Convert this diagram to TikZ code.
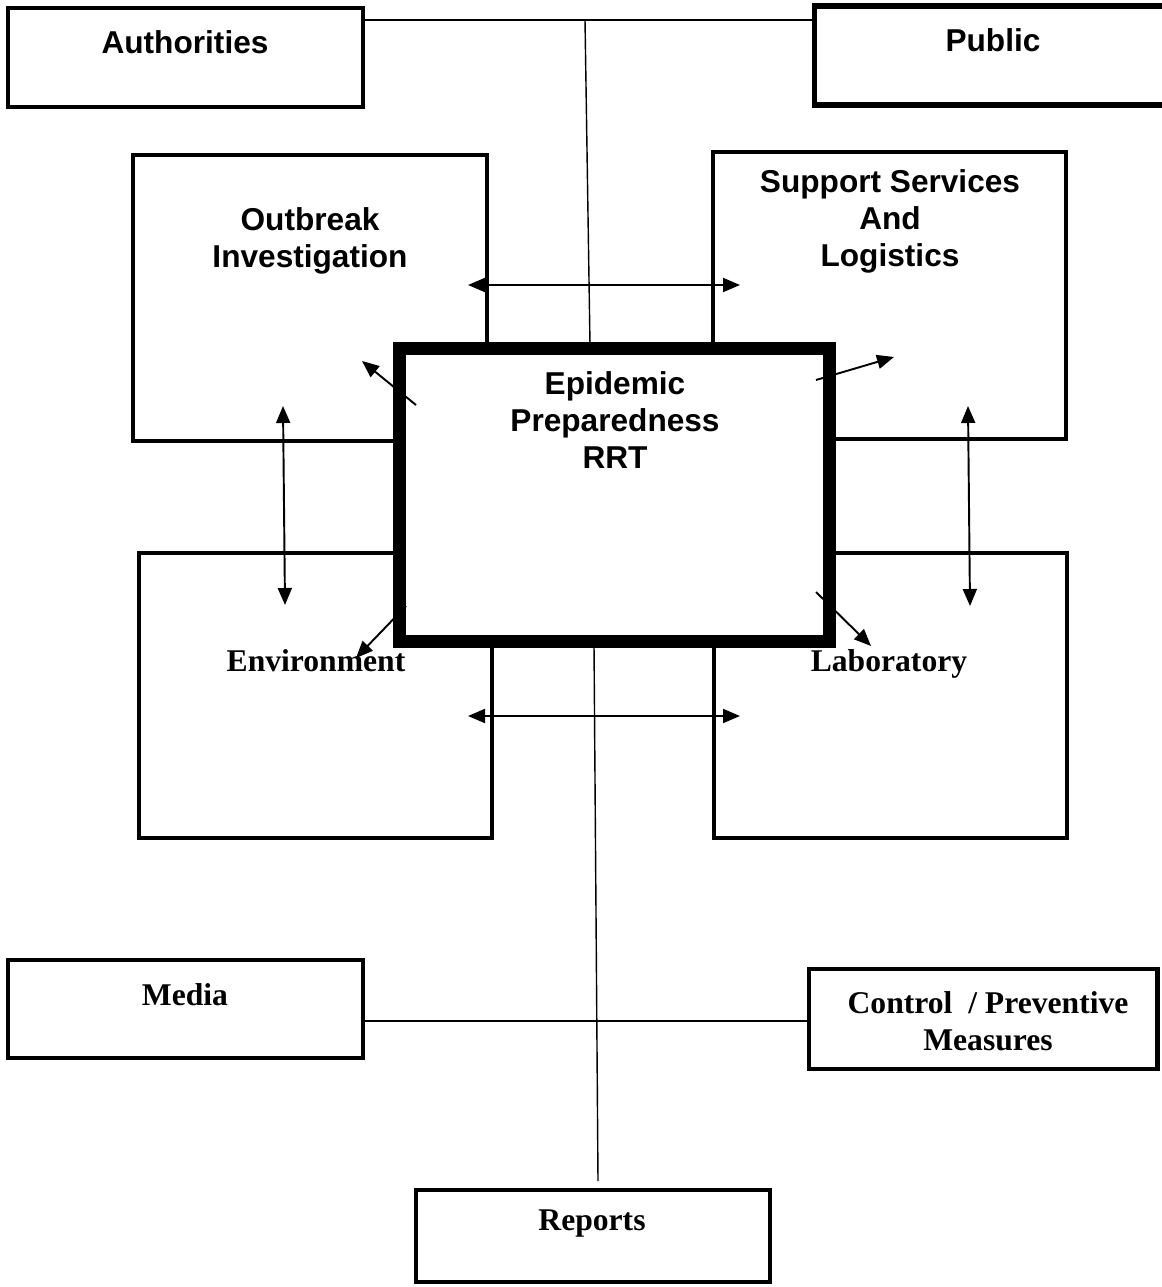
\documentclass[tikz,border=0pt]{standalone}
\usepackage{fontspec}
\setmainfont{Liberation Serif}
\setsansfont{Liberation Sans}
\usetikzlibrary{arrows.meta,positioning,calc}

\begin{document}
\begin{tikzpicture}[x = 0.02cm, y = -0.02cm, > = {Triangle[length = 0.34cm, width = 0.28cm]}]
    \tikzset{
      unit/.style = {draw, line width = 2.3pt, inner sep = 0pt},
      core/.style = {draw, line width = 7.5pt, inner sep = 0pt},
      heading/.style = {font = \sffamily\bfseries\fontsize{18}{21}\selectfont, align = center, inner sep = 0pt},
      serifhead/.style = {font = \rmfamily\bfseries\fontsize{18}{21}\selectfont, align = center, inner sep = 0pt},
      link/.style = {line width = 1.1pt},
      feed/.style = {line width = 0.8pt},
    }
    \useasboundingbox (0, 0) rectangle (1162, 1287);

    % outer boxes
    \node [unit, minimum width = 7.1cm, minimum height = 1.98cm] (auth) at (185.5, 57.5) {};
    \node [unit, line width = 3pt, minimum width = 7.3cm, minimum height = 1.98cm] (pub) at (997, 55.5) {};
    \node [unit, minimum width = 7.1cm, minimum height = 1.96cm] (media) at (185.5, 1009) {};
    \node [unit, minimum width = 6.98cm, minimum height = 2cm] (ctrl) at (983, 1019) {};
    \node [unit, minimum width = 7.08cm, minimum height = 1.84cm] (rep) at (593, 1236) {};

    % inner boxes
    \node [unit, minimum width = 7.08cm, minimum height = 5.72cm] (outb) at (310, 298) {};
    \node [unit, minimum width = 7.06cm, minimum height = 5.74cm] (supp) at (889.5, 295.5) {};
    \node [unit, minimum width = 7.06cm, minimum height = 5.7cm] (env) at (315.5, 695.5) {};
    \node [unit, minimum width = 7.06cm, minimum height = 5.7cm] (lab) at (890.5, 695.5) {};
    \node [core, fill = white, minimum width = 8.6cm, minimum height = 5.86cm] (rrt) at (614.5, 495) {};

    % texts
    \node [heading] (authT) at (185, 42) {Authorities};
    \node [heading] (pubT) at (993, 40) {Public};
    \node [heading] (outbT) at (310, 241) {Outbreak\\Investigation};
    \node [heading] (suppT) at (890, 221) {Support Services\\And\\Logistics};
    \node [heading] (rrtT) at (615, 420) {Epidemic\\Preparedness\\RRT};
    \node [serifhead, anchor = base] (envT) at (316, 671) {Environment};
    \node [serifhead, anchor = base] (labT) at (889, 671) {Laboratory};
    \node [serifhead] (mediaT) at (185, 995) {Media};
    \node [serifhead] (ctrlT) at (988, 1021) {Control~~/ Preventive\\Measures};
    \node [serifhead] (repT) at (592, 1223) {Reports};

    % connector lines
    \coordinate (topjoin) at (585, 20);
    \coordinate (rrttop) at (590, 345);
    \coordinate (rrtbot) at (594, 645);
    \coordinate (repjoin) at (598, 1181);
    \coordinate (midjoin) at (590, 1021);
    \draw [link] (auth.east |- topjoin) -- (pub.west |- topjoin);
    \draw [feed] (topjoin) -- (rrttop);
    \draw [feed] (rrtbot) -- (repjoin);
    \draw [feed] (media.east |- midjoin) -- (ctrl.west |- midjoin);

    % arrows between units
    \draw [link, <->] (468, 285) -- (740, 285);
    \draw [link, <->] (468, 716) -- (740, 716);
    \draw [link, <->] (283, 406) -- (285, 605);
    \draw [link, <->] (968, 406) -- (970, 606);
    \draw [link, ->] (416, 405) -- (362, 361);
    \draw [link, ->] (816, 380) -- (894, 357);
    \draw [link, ->] (406, 606) -- (356, 658);
    \draw [link, ->] (816, 592) -- (871, 646);
\end{tikzpicture}
\end{document}
